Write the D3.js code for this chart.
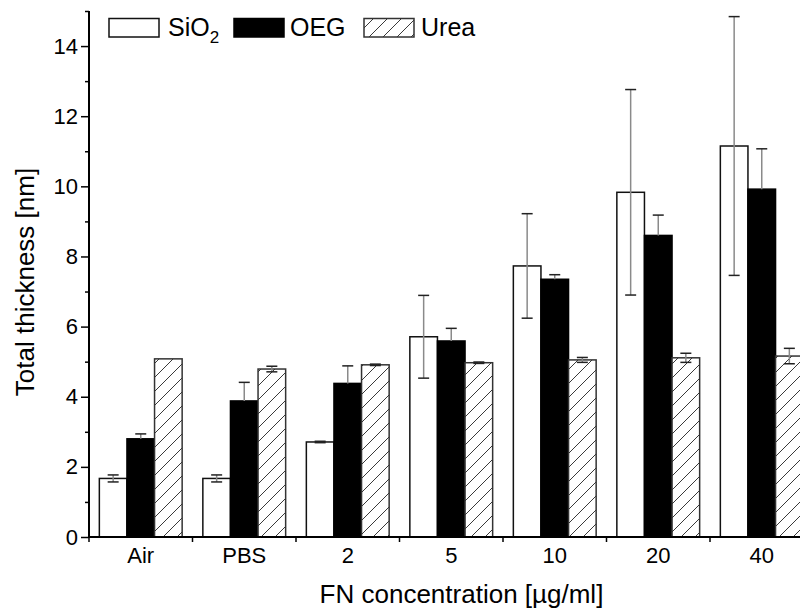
<!DOCTYPE html>
<html><head><meta charset="utf-8">
<script src="https://cdn.jsdelivr.net/npm/d3@7"></script>
<style>
html,body{margin:0;padding:0;background:#fff;}
svg{display:block;font-family:"Liberation Sans",Arial,Helvetica,sans-serif;}
</style></head>
<body><svg id="chart" width="800" height="610"></svg>
<script>
const categories = ["Air","PBS","2","5","10","20","40"];
const seriesNames = ["SiO2","OEG","Urea"];
const sio2 = [1.67, 1.67, 2.71, 5.71, 7.73, 9.83, 11.15];
const sio2Err = [0.10, 0.10, 0.02, 1.18, 1.49, 2.93, 3.69];
const oeg = [2.80, 3.88, 4.38, 5.59, 7.35, 8.60, 9.92];
const oegErr = [0.14, 0.53, 0.50, 0.36, 0.13, 0.58, 1.15];
const urea = [5.08, 4.79, 4.91, 4.97, 5.05, 5.11, 5.16];
const ureaErr = [0.00, 0.08, 0.02, 0.02, 0.07, 0.13, 0.22];
const yMajorTicks = [0,2,4,6,8,10,12,14];
const yMinorTicks = [1,3,5,7,9,11,13,15];

const svg = d3.select("#chart");
const mLeft = 89, mRight = 813.5, mBottom = 537, mTop = 11;

const defs = svg.append("defs");
const pat = defs.append("pattern").attr("id","hatch")
  .attr("patternUnits","userSpaceOnUse").attr("width",14).attr("height",14);
pat.append("rect").attr("width",14).attr("height",14).attr("fill","#fff");
pat.append("path").attr("d","M-2,16 L16,-2 M-2,2 L2,-2 M12,16 L16,12")
  .attr("stroke","#3a3a3a").attr("stroke-width",1);

const x = d3.scaleBand().domain(categories).range([mLeft,mRight])
  .paddingInner(0.2).paddingOuter(0.1);
const xs = d3.scaleBand().domain(seriesNames).range([0,x.bandwidth()]);
const y = d3.scaleLinear().domain([0,15]).range([mBottom,mTop]);

const series = [
  {name:"SiO2", vals:sio2, err:sio2Err, fill:"#fff", stroke:"#111", both:true},
  {name:"OEG", vals:oeg, err:oegErr, fill:"#000", stroke:"#000", both:false},
  {name:"Urea", vals:urea, err:ureaErr, fill:"url(#hatch)", stroke:"#333", both:true}
];

// bars
series.forEach(s=>{
  svg.append("g").selectAll("rect").data(categories).join("rect")
    .attr("x",(c)=>x(c)+xs(s.name))
    .attr("width",xs.bandwidth())
    .attr("y",(c,i)=>y(s.vals[i]))
    .attr("height",(c,i)=>y(0)-y(s.vals[i]))
    .attr("fill",s.fill).attr("stroke",s.stroke).attr("stroke-width",1.5);
});
// error bars
series.forEach(s=>{
  const g = svg.append("g");
  categories.forEach((c,i)=>{
    if(!s.err[i]) return;
    const cx = x(c)+xs(s.name)+xs.bandwidth()/2;
    const yt = y(s.vals[i]+s.err[i]);
    const yb = s.both ? y(s.vals[i]-s.err[i]) : y(s.vals[i]);
    g.append("line").attr("x1",cx).attr("x2",cx).attr("y1",yt).attr("y2",yb)
      .attr("stroke","#8a8a8a").attr("stroke-width",1.5);
    g.append("line").attr("x1",cx-5.5).attr("x2",cx+5.5).attr("y1",yt).attr("y2",yt)
      .attr("stroke","#222").attr("stroke-width",1.5);
    if(s.both) g.append("line").attr("x1",cx-5.5).attr("x2",cx+5.5).attr("y1",yb).attr("y2",yb)
      .attr("stroke","#222").attr("stroke-width",1.5);
  });
});

// y axis
const yAxis = svg.append("g").attr("transform",`translate(${mLeft},0)`)
  .call(d3.axisLeft(y).tickValues(yMajorTicks).tickSize(8).tickPadding(3).tickFormat(d3.format("d")));
yAxis.select(".domain").remove();
yAxis.selectAll(".tick line").attr("stroke","#000").attr("stroke-width",1.5);
yAxis.selectAll(".tick text").attr("font-size",22).attr("fill","#000")
  .attr("font-family","Liberation Sans, Arial, sans-serif");
const yMinor = svg.append("g").attr("transform",`translate(${mLeft},0)`)
  .call(d3.axisLeft(y).tickValues(yMinorTicks).tickSize(4).tickFormat(""));
yMinor.select(".domain").remove();
yMinor.selectAll(".tick line").attr("stroke","#000").attr("stroke-width",1.5);
svg.append("line").attr("x1",mLeft).attr("x2",mLeft).attr("y1",y(0)+1).attr("y2",y(15))
  .attr("stroke","#000").attr("stroke-width",2);

// x axis
const boundaries = categories.map(c=>x(c)-x.step()*0.1).concat([mRight]);
const xg = svg.append("g").attr("transform",`translate(0,${mBottom})`);
xg.selectAll("line.t").data(boundaries).join("line").attr("class","t")
  .attr("x1",d=>d).attr("x2",d=>d).attr("y1",0).attr("y2",5)
  .attr("stroke","#000").attr("stroke-width",1.5);
xg.selectAll("text").data(categories).join("text")
  .attr("x",c=>x(c)+x.bandwidth()/2).attr("y",26)
  .attr("text-anchor","middle").attr("font-size",22).attr("fill","#000").text(c=>c);
svg.append("line").attr("x1",mLeft-1).attr("x2",800).attr("y1",mBottom).attr("y2",mBottom)
  .attr("stroke","#000").attr("stroke-width",2);

// titles
svg.append("text").attr("x",(320+603)/2).attr("y",603).attr("text-anchor","middle")
  .attr("font-size",26).attr("fill","#000").text("FN concentration [µg/ml]");
svg.append("text").attr("transform","translate(34,282) rotate(-90)").attr("text-anchor","middle")
  .attr("font-size",26).attr("fill","#000").text("Total thickness [nm]");

// legend
const legendItems = [
  {name:"SiO", sub:"2", fill:"#fff", stroke:"#111", bx:109, tx:168},
  {name:"OEG", sub:"", fill:"#000", stroke:"#000", bx:234, tx:290},
  {name:"Urea", sub:"", fill:"url(#hatch)", stroke:"#333", bx:364, tx:421}
];
const lg = svg.append("g");
legendItems.forEach(it=>{
  lg.append("rect").attr("x",it.bx).attr("y",18.5).attr("width",50).attr("height",18.5)
    .attr("fill",it.fill).attr("stroke",it.stroke).attr("stroke-width",1.5);
  const t = lg.append("text").attr("x",it.tx).attr("y",36).attr("font-size",25).attr("fill","#000").text(it.name);
  if(it.sub) t.append("tspan").attr("font-size",17).attr("dy",7).text(it.sub);
});
</script>
</body></html>
